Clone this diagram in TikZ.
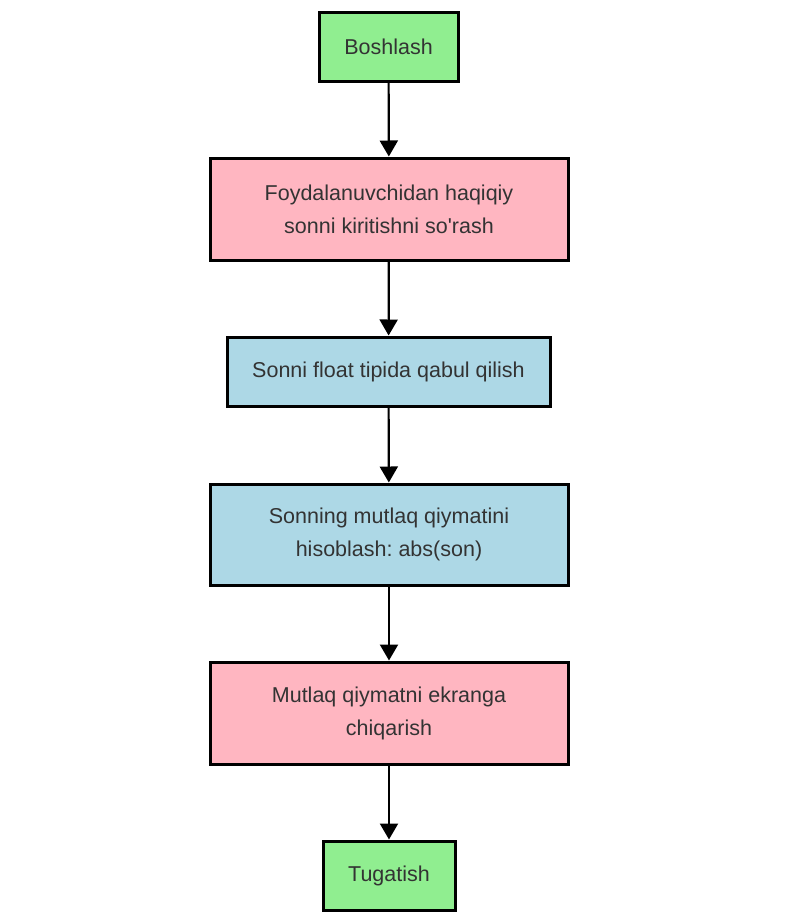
\documentclass[tikz,border=0pt]{standalone}
\usepackage{fontspec}
\newfontfamily\boxfont{Liberation Sans}
\usetikzlibrary{arrows.meta,shadows}
\definecolor{lgreen}{HTML}{90EE90}
\definecolor{lpink}{HTML}{FFB6C1}
\definecolor{lblue}{HTML}{ADD8E6}
\definecolor{txt}{HTML}{333333}
\frenchspacing
\tikzset{
  box/.style={draw=black, line width=3pt, text=txt, align=center, inner sep=0pt,
    font=\boxfont\fontsize{21.5pt}{33pt}\selectfont\frenchspacing,
    drop shadow={shadow xshift=2pt, shadow yshift=-2pt, opacity=0.25, fill=gray}},
  conn/.style={line width=2.2pt, -{Triangle[length=16pt,width=18pt]}}
}
\begin{document}
\begin{tikzpicture}[x=1pt,y=-1pt]
\useasboundingbox (0,0) rectangle (788,916);
\node[box, fill=lgreen, minimum width=139pt, minimum height=69pt] (b1) at (388.5,46.5) {Boshlash};
\node[box, fill=lpink, minimum width=358pt, minimum height=102pt] (b2) at (389,209) {Foydalanuvchidan haqiqiy\\sonni kiritishni so'rash};
\node[box, fill=lblue, minimum width=323pt, minimum height=69pt] (b3) at (388.5,371.5) {Sonni float tipida qabul qilish};
\node[box, fill=lblue, minimum width=358pt, minimum height=101pt] (b4) at (389,534.5) {Sonning mutlaq qiymatini\\hisoblash: abs(son)};
\node[box, fill=lpink, minimum width=358pt, minimum height=102pt] (b5) at (389,713) {Mutlaq qiymatni ekranga\\chiqarish};
\node[box, fill=lgreen, minimum width=132pt, minimum height=69pt] (b6) at (389,875.5) {Tugatish};
\draw[conn] (b1) -- (b2);
\draw[conn] (b2) -- (b3);
\draw[conn] (b3) -- (b4);
\draw[conn] (b4) -- (b5);
\draw[conn] (b5) -- (b6);
\end{tikzpicture}
\end{document}
